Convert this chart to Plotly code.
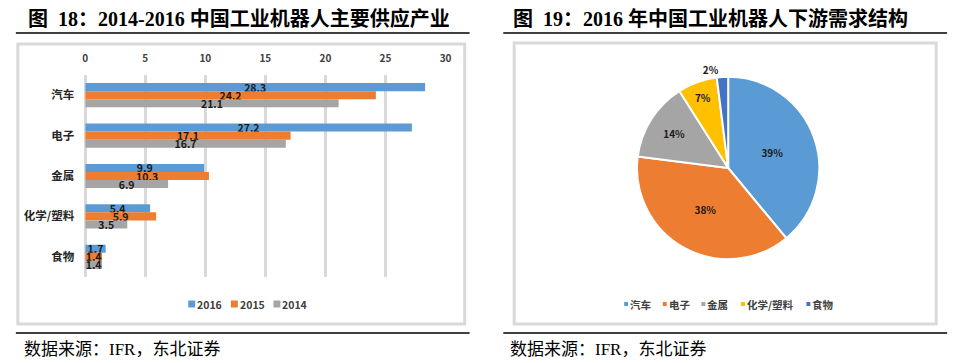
import plotly.graph_objects as go

W, H = 965, 363

categories = ["汽车", "电子", "金属", "化学/塑料", "食物"]
v2016 = [28.3, 27.2, 9.9, 5.4, 1.7]
v2015 = [24.2, 17.1, 10.3, 5.9, 1.4]
v2014 = [21.1, 16.7, 6.9, 3.5, 1.4]
years = ["2016", "2015", "2014"]
bar_colors = ["#5B9BD5", "#ED7D31", "#A5A5A5"]
x_ticks = [0, 5, 10, 15, 20, 25, 30]

pie_labels = ["汽车", "电子", "金属", "化学/塑料", "食物"]
pie_values = [39, 38, 14, 7, 2]
pie_colors = ["#5B9BD5", "#ED7D31", "#A5A5A5", "#FFC000", "#4472C4"]

title_left = "图  18：2014-2016 中国工业机器人主要供应产业"
title_right = "图  19：2016 年中国工业机器人下游需求结构"
source_text = "数据来源：IFR，东北证券"

# layout constants (pixel positions of legend keys)
bar_legend_x = [187, 230, 273]
pie_legend_x = [627, 666, 705, 745, 811]
legend_y = 304


def px(x):
    return x / W


def py(y):
    return 1 - y / H


SERIF = "Liberation Serif, Noto Sans CJK SC, serif"
SANS = "Noto Sans CJK SC, Liberation Sans, sans-serif"

fig = go.Figure()

for name, vals, col in zip(years, [v2016, v2015, v2014], bar_colors):
    fig.add_trace(go.Bar(
        y=categories, x=vals, name=name, orientation="h",
        marker=dict(color=col, line=dict(width=0)),
        text=[f"{v}" for v in vals],
        textposition="inside", insidetextanchor="middle",
        constraintext="none", cliponaxis=False,
        insidetextfont=dict(family=SANS, size=10.5, color="#1a1a1a", weight="bold"),
        showlegend=False,
    ))

fig.add_trace(go.Pie(
    labels=pie_labels, values=pie_values, sort=False,
    direction="clockwise", rotation=0,
    marker=dict(colors=pie_colors, line=dict(color="white", width=2)),
    texttemplate="%{value}%",
    textposition=["inside", "inside", "inside", "inside", "outside"],
    insidetextorientation="horizontal",
    textfont=dict(family=SANS, size=10, color="#1a1a1a", weight="bold"),
    domain=dict(x=[px(640), px(824)], y=[py(261), py(75)]),
    showlegend=False, hoverinfo="label+percent",
))

fig.update_layout(
    width=W, height=H,
    margin=dict(l=0, r=0, t=0, b=0),
    paper_bgcolor="white", plot_bgcolor="white",
    barmode="group", bargap=0.4, bargroupgap=0,
    xaxis=dict(
        domain=[px(83), px(446.7)], range=[0, 30], side="top",
        tickvals=x_ticks, showgrid=True, gridcolor="#d9d9d9", gridwidth=2.5,
        zeroline=True, zerolinecolor="#d9d9d9", zerolinewidth=2.5,
        showline=False, ticks="", ticklabelstandoff=10,
        tickfont=dict(family=SANS, size=10, color="#404040", weight="bold"),
        fixedrange=True,
    ),
    yaxis=dict(
        domain=[py(277), py(75)], autorange="reversed",
        categoryorder="array", categoryarray=categories,
        showgrid=False, showline=False, ticks="", ticklabelstandoff=10,
        tickfont=dict(family=SANS, size=11.5, color="#262626", weight="bold"),
        fixedrange=True,
    ),
    showlegend=False,
)

shapes = [
    dict(type="rect", xref="paper", yref="paper", x0=px(15), x1=px(466), y0=py(324), y1=py(44),
         line=dict(color="#d9d9d9", width=3), fillcolor="rgba(0,0,0,0)", layer="below"),
    dict(type="rect", xref="paper", yref="paper", x0=px(516), x1=px(942), y0=py(324), y1=py(43),
         line=dict(color="#d9d9d9", width=3), fillcolor="rgba(0,0,0,0)", layer="below"),
    dict(type="line", xref="paper", yref="paper", x0=px(13), x1=px(471), y0=py(33), y1=py(33),
         line=dict(color="black", width=1.5)),
    dict(type="line", xref="paper", yref="paper", x0=px(505), x1=px(953), y0=py(33), y1=py(33),
         line=dict(color="black", width=1.5)),
    dict(type="line", xref="paper", yref="paper", x0=px(13), x1=px(471), y0=py(333), y1=py(333),
         line=dict(color="black", width=1.5)),
    dict(type="line", xref="paper", yref="paper", x0=px(505), x1=px(953), y0=py(333), y1=py(333),
         line=dict(color="black", width=1.5)),
]

annotations = [
    dict(text=title_left, x=px(23), y=py(18), xanchor="left", yanchor="middle",
         font=dict(family=SERIF, size=20, color="black", weight="bold")),
    dict(text=title_right, x=px(513), y=py(18), xanchor="left", yanchor="middle",
         font=dict(family=SERIF, size=20, color="black", weight="bold")),
    dict(text=source_text, x=px(19), y=py(349), xanchor="left", yanchor="middle",
         font=dict(family=SERIF, size=17, color="black")),
    dict(text=source_text, x=px(510), y=py(349), xanchor="left", yanchor="middle",
         font=dict(family=SERIF, size=17, color="black")),
]

# custom compact legends
for lx, name, col in zip(bar_legend_x, years, bar_colors):
    shapes.append(dict(type="rect", xref="paper", yref="paper",
                       x0=px(lx), x1=px(lx + 7), y0=py(legend_y + 3.5), y1=py(legend_y - 3.5),
                       line=dict(width=0), fillcolor=col))
    annotations.append(dict(text=name, x=px(lx + 7), y=py(legend_y), xanchor="left", yanchor="middle",
                            font=dict(family=SANS, size=10.5, color="#404040", weight="bold")))
for lx, name, col in zip(pie_legend_x, pie_labels, pie_colors):
    shapes.append(dict(type="rect", xref="paper", yref="paper",
                       x0=px(lx), x1=px(lx + 4), y0=py(legend_y + 2), y1=py(legend_y - 2),
                       line=dict(width=0), fillcolor=col))
    annotations.append(dict(text=name, x=px(lx + 4), y=py(legend_y), xanchor="left", yanchor="middle",
                            font=dict(family=SANS, size=10.5, color="#404040", weight="bold")))

for a in annotations:
    a.update(xref="paper", yref="paper", showarrow=False)
fig.update_layout(shapes=shapes, annotations=annotations)

fig.write_html("out.html", config={"displayModeBar": False},
               post_script="document.body.style.margin='0';document.body.style.padding='0';")
